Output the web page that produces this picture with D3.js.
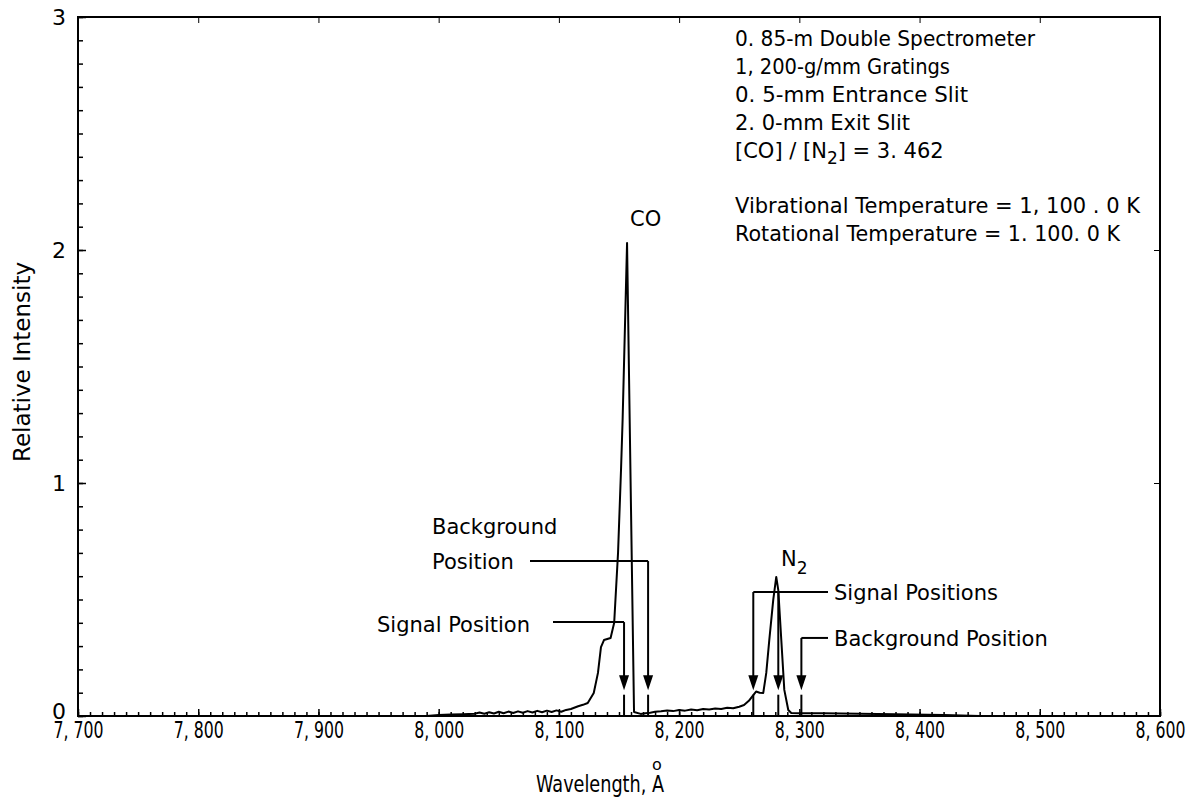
<!doctype html>
<html>
<head>
<meta charset="utf-8">
<script src="https://d3js.org/d3.v7.min.js"></script>
<style>
  body { margin: 0; background: #fff; }
  svg { display: block; }
  text { font-family: "DejaVu Sans", sans-serif; fill: #000; }
</style>
<title>CO / N2 spectrum</title>
</head>
<body>
<svg width="1187" height="805"></svg>
<script>

// spectrum trace, wavelength in angstrom
var wavelength = [7700, 7990, 8000, 8010, 8020, 8030, 8034, 8038, 8042, 8046, 8050, 8054, 8058, 8062, 8066, 8070,
    8074, 8078, 8082, 8086, 8090, 8094, 8098, 8102, 8106, 8110, 8116, 8120, 8124, 8129, 8132.5, 8135, 8137.5,
    8143, 8146, 8149.2, 8151.7, 8153, 8156.7, 8162.5, 8168, 8172, 8176, 8180, 8185, 8190, 8195, 8200, 8205,
    8210, 8215, 8220, 8225, 8230, 8235, 8240, 8245, 8250, 8254, 8258, 8261.7, 8264, 8267, 8270, 8272.5, 8275,
    8278.3, 8280.8, 8282.5, 8285, 8287.5, 8290.8, 8293.3, 8300, 8320, 8350, 8380, 8420, 8450, 8600];
var intensity = [0, 0, 0.004, 0.006, 0.008, 0.010, 0.015, 0.010, 0.016, 0.011, 0.018, 0.012, 0.019, 0.013, 0.020, 0.014,
    0.021, 0.015, 0.022, 0.016, 0.023, 0.017, 0.024, 0.018, 0.026, 0.030, 0.042, 0.048, 0.056, 0.099, 0.185, 0.296, 0.326,
    0.335, 0.40, 0.70, 1.06, 1.27, 2.03, 0.017, 0.009, 0.012, 0.014, 0.018, 0.020, 0.024, 0.021, 0.026, 0.023,
    0.028, 0.025, 0.030, 0.028, 0.032, 0.030, 0.035, 0.033, 0.040, 0.047, 0.065, 0.090, 0.105, 0.100, 0.099, 0.185, 0.326,
    0.498, 0.597, 0.54, 0.326, 0.112, 0.026, 0.013, 0.012, 0.012, 0.010, 0.008, 0.004, 0, 0];

var xTicks = [7700, 7800, 7900, 8000, 8100, 8200, 8300, 8400, 8500, 8600];
var xTickLabels = ["7, 700", "7, 800", "7, 900", "8, 000", "8, 100", "8, 200", "8, 300", "8, 400", "8, 500", "8, 600"];
var yTicks = [0, 1, 2, 3];

// arrow markers: [wavelength, leader height]
var coSignal = [8154.2, 0.403];
var coBackground = [8174.2, 0.665];
var n2Signal = [[8261.7, 0.532], [8282.5, 0.532]];
var n2Background = [8301.7, 0.335];

var infoLines = ["0. 85-m Double Spectrometer", "1, 200-g/mm Gratings", "0. 5-mm Entrance Slit", "2. 0-mm Exit Slit"];
var tempLines = ["Vibrational Temperature = 1, 100 . 0 K", "Rotational Temperature = 1. 100. 0 K"];

var svg = d3.select("svg"),
    pLeft = 78, pRight = 1160, pTop = 17, pBottom = 716;

var x = d3.scaleLinear().domain([7700, 8600]).range([pLeft, pRight]);
var y = d3.scaleLinear().domain([0, 3]).range([pBottom, pTop]);

// frame
svg.append("rect")
   .attr("x", pLeft).attr("y", pTop)
   .attr("width", pRight - pLeft).attr("height", pBottom - pTop)
   .attr("fill", "none").attr("stroke", "#000").attr("stroke-width", 2);

// minor ticks
var minorX = d3.range(7700, 8601, 10);
var minorY = d3.range(0, 3.01, 0.1);
svg.append("g").attr("transform", "translate(0," + pBottom + ")")
   .call(d3.axisBottom(x).tickValues(minorX).tickSize(-4).tickFormat(""))
   .call(function(g) { g.select(".domain").remove(); });
svg.append("g").attr("transform", "translate(" + pLeft + ",0)")
   .call(d3.axisLeft(y).tickValues(minorY).tickSize(-5).tickFormat(""))
   .call(function(g) { g.select(".domain").remove(); });

// major ticks + labels
var xAxis = svg.append("g").attr("transform", "translate(0," + pBottom + ")")
   .call(d3.axisBottom(x).tickValues(xTicks).tickSize(-7).tickPadding(6)
         .tickFormat(function(d, i) { return xTickLabels[i]; }));
xAxis.select(".domain").remove();
xAxis.selectAll("text").attr("font-size", 23).attr("font-family", null)
     .attr("textLength", 50).attr("lengthAdjust", "spacingAndGlyphs");

var yAxis = svg.append("g").attr("transform", "translate(" + pLeft + ",0)")
   .call(d3.axisLeft(y).tickValues(yTicks).tickSize(-8).tickPadding(12).tickFormat(d3.format("d")));
yAxis.select(".domain").remove();
yAxis.selectAll("text").attr("font-size", 22).attr("font-family", null);
yAxis.selectAll(".tick").filter(function(d) { return d === 0; }).select("text").attr("dy", "0.1em");
svg.selectAll(".tick line").attr("stroke-width", 1.5);

// top / right ticks
svg.append("g").attr("transform", "translate(0," + pTop + ")")
   .call(d3.axisTop(x).tickValues(xTicks).tickSize(-6).tickFormat(""))
   .call(function(g) { g.select(".domain").remove(); });
svg.append("g").attr("transform", "translate(" + pRight + ",0)")
   .call(d3.axisRight(y).tickValues(yTicks).tickSize(-6).tickFormat(""))
   .call(function(g) { g.select(".domain").remove(); });

// axis titles
svg.append("text")
   .attr("transform", "translate(30,362) rotate(-90)")
   .attr("text-anchor", "middle").attr("font-size", 23)
   .attr("textLength", 200).attr("lengthAdjust", "spacingAndGlyphs")
   .text("Relative Intensity");
svg.append("text")
   .attr("x", 600).attr("y", 792).attr("text-anchor", "middle").attr("font-size", 23)
   .attr("textLength", 128).attr("lengthAdjust", "spacingAndGlyphs")
   .text("Wavelength, A");
svg.append("text")
   .attr("x", 657).attr("y", 770).attr("text-anchor", "middle").attr("font-size", 16)
   .text("o");

// spectrum line
var pts = wavelength.map(function(w, i) { return [w, intensity[i]]; });
svg.append("path")
   .datum(pts)
   .attr("fill", "none").attr("stroke", "#000").attr("stroke-width", 2)
   .attr("stroke-linejoin", "round")
   .attr("d", d3.line().x(function(d) { return x(d[0]); }).y(function(d) { return y(d[1]); }));

// arrows
function arrow(w, h) {
    var px = x(w), tip = y(0.11);
    svg.append("line").attr("x1", px).attr("x2", px).attr("y1", y(h)).attr("y2", tip - 10)
       .attr("stroke", "#000").attr("stroke-width", 2);
    svg.append("path")
       .attr("d", "M" + (px - 5) + "," + (tip - 15) + "L" + (px + 5) + "," + (tip - 15) + "L" + px + "," + tip + "Z")
       .attr("fill", "#000");
    svg.append("line").attr("x1", px).attr("x2", px).attr("y1", y(0.1) + 2).attr("y2", y(0))
       .attr("stroke", "#000").attr("stroke-width", 2);
}
function leader(x1, x2, h) {
    svg.append("line").attr("x1", x1).attr("x2", x2).attr("y1", y(h)).attr("y2", y(h))
       .attr("stroke", "#000").attr("stroke-width", 2);
}

leader(553, x(coSignal[0]), coSignal[1]);
arrow(coSignal[0], coSignal[1]);
leader(530, x(coBackground[0]), coBackground[1]);
arrow(coBackground[0], coBackground[1]);
leader(x(n2Signal[0][0]), 828, n2Signal[0][1]);
n2Signal.forEach(function(d) { arrow(d[0], d[1]); });
leader(x(n2Background[0]), 828, n2Background[1]);
arrow(n2Background[0], n2Background[1]);

// annotation text
function label(tx, ty, s, len) {
    var t = svg.append("text").attr("x", tx).attr("y", ty).attr("font-size", 21).text(s);
    if (len) t.attr("textLength", len).attr("lengthAdjust", "spacingAndGlyphs");
    return t;
}
label(432, 534, "Background");
label(432, 569, "Position");
label(377, 632, "Signal Position");
label(834, 600, "Signal Positions");
label(834, 646, "Background Position");
label(630, 226, "CO");
var n2 = label(781, 566, "N");
n2.append("tspan").attr("dy", 8).attr("font-size", 17).text("2");

var infoLens = [300, 215, 233, 175];
infoLines.forEach(function(s, i) { label(735, 46 + i * 28, s, infoLens[i]).attr("font-size", 22); });
var ratio = label(735, 158, "[CO] / [N");
ratio.append("tspan").attr("dy", 6).attr("font-size", 17).text("2");
ratio.append("tspan").attr("dy", -6).text("] = 3. 462");
var tempLens = [405, 385];
tempLines.forEach(function(s, i) { label(735, 213 + i * 28, s, tempLens[i]).attr("font-size", 22); });

</script>
</body>
</html>
